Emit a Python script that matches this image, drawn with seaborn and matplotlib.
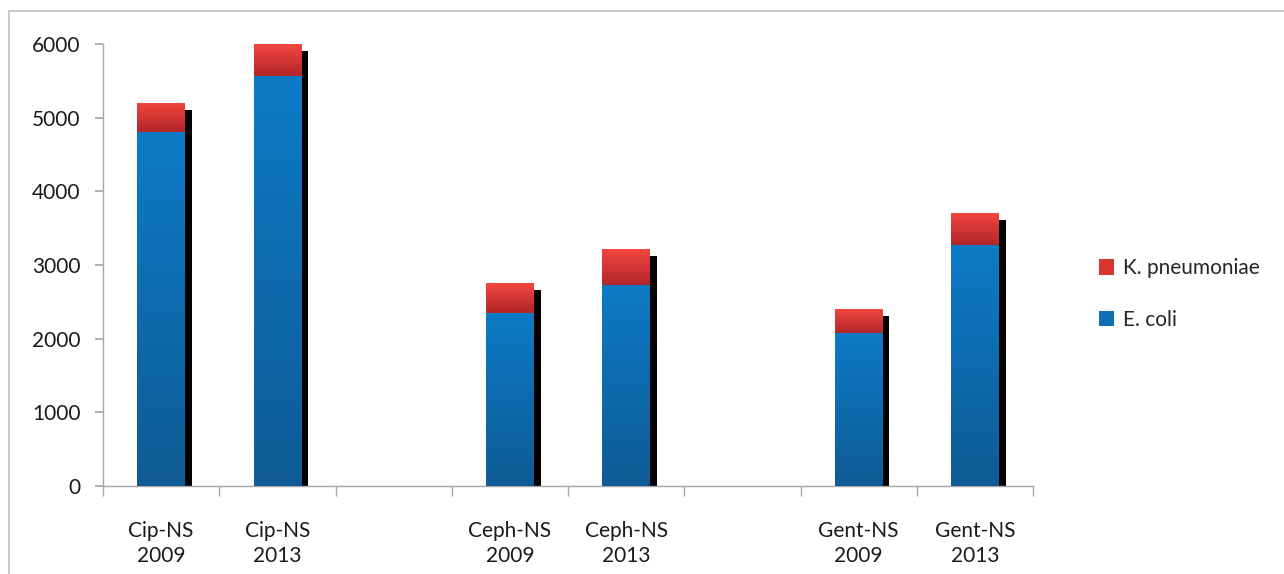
import numpy as np
import pandas as pd
import matplotlib
matplotlib.use("Agg")
import matplotlib.pyplot as plt
import matplotlib.patheffects as pe
from matplotlib.colors import LinearSegmentedColormap
from matplotlib.lines import Line2D
from matplotlib.patches import Patch
import seaborn as sns

# ---- data ----
groups = ["Cip-NS\n2009", "Cip-NS\n2013", "Ceph-NS\n2009", "Ceph-NS\n2013", "Gent-NS\n2009", "Gent-NS\n2013"]
order = ["Cip-NS\n2009", "Cip-NS\n2013", " ", "Ceph-NS\n2009", "Ceph-NS\n2013", "  ", "Gent-NS\n2009", "Gent-NS\n2013"]
ecoli = [4800, 5570, 2350, 2730, 2080, 3265]
kpneu = [400, 430, 400, 485, 320, 435]
yticks = [0, 1000, 2000, 3000, 4000, 5000, 6000]

df = pd.DataFrame({"group": groups, "E. coli": ecoli, "K. pneumoniae": kpneu})
df["total"] = df["E. coli"] + df["K. pneumoniae"]

sns.set_theme(style="white")
plt.rcParams["font.family"] = ["Lato", "DejaVu Sans"]

fig = plt.figure(figsize=(12.84, 5.74), dpi=100)
ax = fig.add_axes([103 / 1284, 1 - 486 / 574, 930 / 1284, 442 / 574])

bw = 0.41
# shadow layer (white bar with black drop shadow)
sns.barplot(data=df, x="group", y="total", order=order, color="white", width=bw,
            ax=ax, saturation=1, zorder=1)
shadow_patches = list(ax.patches)
for p in shadow_patches:
    p.set_path_effects([pe.SimplePatchShadow(offset=(5, -5), shadow_rgbFace="black", alpha=1.0), pe.Normal()])
    p.set_edgecolor("none")

n0 = len(ax.patches)
sns.barplot(data=df, x="group", y="total", order=order, color="#e03a35", width=bw,
            ax=ax, saturation=1, zorder=2)
red_patches = [p for p in ax.patches[n0:] if np.isfinite(p.get_height()) and p.get_height() > 0]
n1 = len(ax.patches)
sns.barplot(data=df, x="group", y="E. coli", order=order, color="#0e72b8", width=bw,
            ax=ax, saturation=1, zorder=3)
blue_patches = [p for p in ax.patches[n1:] if np.isfinite(p.get_height()) and p.get_height() > 0]

red_cmap = LinearSegmentedColormap.from_list("r", ["#b1262a", "#f4463f"])
blue_cmap = LinearSegmentedColormap.from_list("b", ["#0f5b95", "#0d7bc7"])
grad = np.linspace(0, 1, 256).reshape(-1, 1)

def fill_gradient(p, cmap, z, lo, hi):
    x0, w = p.get_x(), p.get_width()
    im = ax.imshow(grad, cmap=cmap, aspect="auto", origin="lower",
                   extent=[x0, x0 + w, lo, hi], zorder=z, interpolation="bicubic")
    im.set_clip_path(p)
    p.set_edgecolor("none")

for rp, bp in zip(red_patches, blue_patches):
    fill_gradient(rp, red_cmap, 2.5, bp.get_height(), rp.get_height())
    fill_gradient(bp, blue_cmap, 3.5, 0, bp.get_height())

ax.set_ylim(0, 6000)
ax.set_xlim(-0.5, 7.5)

# axes styling
for s in ["top", "right"]:
    ax.spines[s].set_visible(False)
for s in ["left", "bottom"]:
    ax.spines[s].set_color("#a6a6a6")
    ax.spines[s].set_linewidth(1.0)
ax.set_yticks(yticks)
ax.set_yticklabels([str(v) for v in yticks], fontsize=15, color="#1a1a1a")
ax.tick_params(axis="y", which="major", direction="out", length=6, color="#a6a6a6", left=True, pad=10)
ax.set_xticks(range(len(order)))
ax.set_xticklabels(order, fontsize=15, color="#1a1a1a", linespacing=1.35)
ax.tick_params(axis="x", which="major", length=0, pad=25)
ax.set_xticks(np.arange(-0.5, 8.0, 1.0), minor=True)
ax.tick_params(axis="x", which="minor", direction="out", length=7, color="#a6a6a6", bottom=True)
ax.set_xlabel("")
ax.set_ylabel("")
ax.grid(False)

# legend
handles = [Patch(facecolor="#d8352f", edgecolor="none", label="K. pneumoniae"),
           Patch(facecolor="#0e6fb4", edgecolor="none", label="E. coli")]
fig.legend(handles=handles, loc="center left", bbox_to_anchor=(1080 / 1284, 1 - 294 / 574),
           frameon=False, fontsize=15, handlelength=0.75, handleheight=0.75,
           handletextpad=0.4, labelspacing=1.5)

# outer frame lines (top and left)
fig.add_artist(Line2D([9 / 1284, 1.0], [1 - 11 / 574, 1 - 11 / 574], transform=fig.transFigure,
                      color="#c0c0c0", linewidth=1.2))
fig.add_artist(Line2D([9 / 1284, 9 / 1284], [0, 1 - 11 / 574], transform=fig.transFigure,
                      color="#c0c0c0", linewidth=1.2))

fig.savefig("out.png", dpi=100, facecolor="white")
